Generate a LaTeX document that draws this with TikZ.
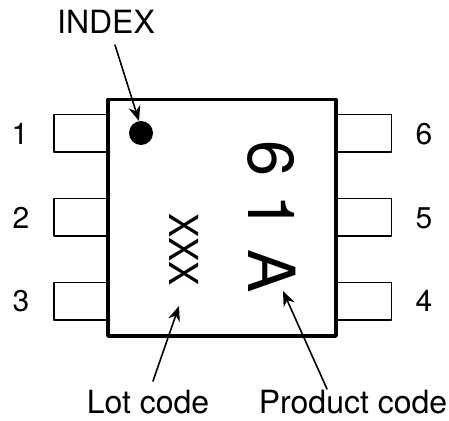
\documentclass[tikz,border=0pt]{standalone}
\usepackage{fontspec}
\setmainfont{TeX Gyre Heros}
\usetikzlibrary{arrows.meta}
\tikzset{
	pin/.style={line width=1.9pt},
	pinlabel/.style={anchor=base,inner sep=0pt,font=\fontsize{30}{30}\selectfont},
	callout/.style={anchor=base,inner sep=0pt,font=\fontsize{32}{32}\selectfont},
	pointer/.style={line width=1.6pt,-{Stealth[length=15pt,width=12pt]}}
}
\begin{document}
\begin{tikzpicture}[x=1pt,y=-1pt,line join=round,line cap=round]
	\useasboundingbox (0,0) rectangle (449,420);
	% pins
	\draw[pin] (108,114.5)--(54,114.5)--(54,152)--(108,152);
	\draw[pin] (108,198.5)--(54,198.5)--(54,236)--(108,236);
	\draw[pin] (108,282.5)--(54,282.5)--(54,320)--(108,320);
	\draw[pin] (336,114.5)--(391.5,114.5)--(391.5,152)--(336,152);
	\draw[pin] (336,198.5)--(391.5,198.5)--(391.5,236)--(336,236);
	\draw[pin] (336,282.5)--(391.5,282.5)--(391.5,320)--(336,320);
	% package
	\draw[line width=3.6pt] (108,99.5) rectangle (336,336);
	\fill (141,133) circle (12);
	% marking
	\node[anchor=base,inner sep=0pt,rotate=-90,font=\fontsize{65}{65}\selectfont] (product) at (248,216.5) {6 1 A};
	\node[anchor=base,inner sep=0pt,yscale=0.91,rotate=-90,font=\fontsize{40}{40}\selectfont] (lot) at (169,249.5) {XXX};
	% pin numbers
	\node[pinlabel] (p1) at (20,144) {1};
	\node[pinlabel] (p2) at (21,228) {2};
	\node[pinlabel] (p3) at (21,311) {3};
	\node[pinlabel] (p6) at (424,144) {6};
	\node[pinlabel] (p5) at (424,228) {5};
	\node[pinlabel] (p4) at (424,311) {4};
	% callouts
	\node[callout] (index) at (106,34) {INDEX};
	\node[callout] (lotcode) at (148,413) {Lot code};
	\node[callout] (productcode) at (353,413) {Product code};
	\coordinate (indextail) at (115,45);
	\coordinate (indexhead) at (139,121);
	\coordinate (lottail) at (153,381);
	\coordinate (lothead) at (179,306);
	\coordinate (producttail) at (327,389);
	\coordinate (producthead) at (283,291);
	\draw[pointer] (indextail)--(indexhead);
	\draw[pointer] (lottail)--(lothead);
	\draw[pointer] (producttail)--(producthead);
\end{tikzpicture}
\end{document}
